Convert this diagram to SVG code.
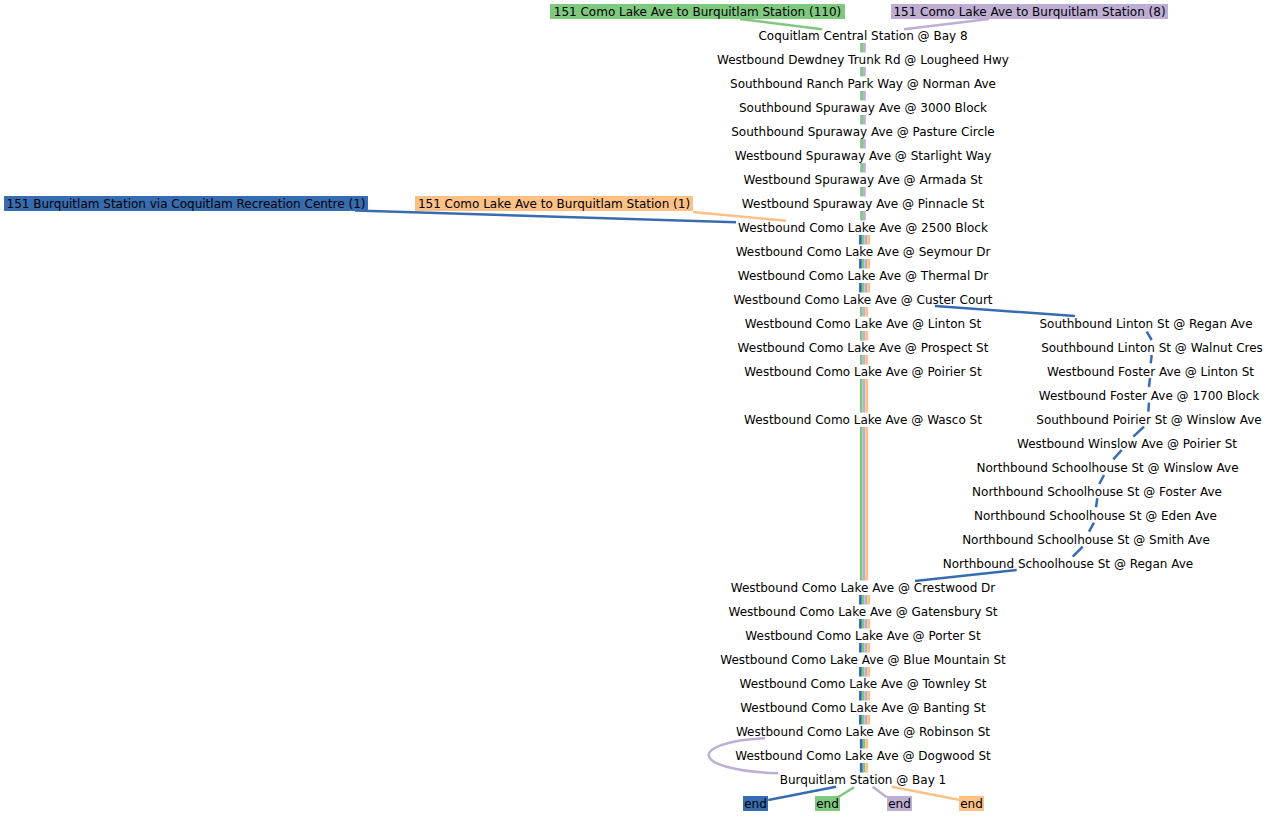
<svg xmlns="http://www.w3.org/2000/svg" width="1271" height="816" viewBox="0 0 1271 816">
<style>
text{font-family:"DejaVu Sans",sans-serif;font-size:12px;fill:#000}
.stop text{text-anchor:middle}
.c{fill:none;stroke-width:2.5;stroke-linecap:butt}
.s{fill:none;stroke-width:2.75;stroke-linecap:butt}
.b{stroke:#386cb0}.g{stroke:#7fc97f}.p{stroke:#beaed4}.o{stroke:#fdc086}
.fb{fill:#386cb0}.fg{fill:#7fc97f}.fp{fill:#beaed4}.fo{fill:#fdc086}
</style>
<rect width="1271" height="816" fill="#fff"/>
<g id="connectors">
<path class="s g" d="M861.6 43V52.5M861.6 67V76.5M861.6 91V100.5M861.6 115V124.5M861.6 139V148.5M861.6 163V172.5M861.6 187V196.5M861.6 211V220.5M863.1 235V244.5M863.1 259V268.5M863.1 283V292.5M861.25 307V316.5M861.25 331V340.5M861.25 355V364.5M861.25 379V412.5M861.25 427V580.5M863.1 595V604.5M863.1 619V628.5M863.1 643V652.5M863.1 667V676.5M863.1 691V700.5M863.1 715V724.5M864 739V748.5M864 763V772.5"/>
<path class="s p" d="M864.4 43V52.5M864.4 67V76.5M864.4 91V100.5M864.4 115V124.5M864.4 139V148.5M864.4 163V172.5M864.4 187V196.5M864.4 211V220.5M865.9 235V244.5M865.9 259V268.5M865.9 283V292.5M864 307V316.5M864 331V340.5M864 355V364.5M864 379V412.5M864 427V580.5M865.9 595V604.5M865.9 619V628.5M865.9 643V652.5M865.9 667V676.5M865.9 691V700.5M865.9 715V724.5"/>
<path class="s o" d="M868.6 235V244.5M868.6 259V268.5M868.6 283V292.5M866.75 307V316.5M866.75 331V340.5M866.75 355V364.5M866.75 379V412.5M866.75 427V580.5M868.6 595V604.5M868.6 619V628.5M868.6 643V652.5M868.6 667V676.5M868.6 691V700.5M868.6 715V724.5M866.75 739V748.5M866.75 763V772.5"/>
<path class="s b" d="M860.4 235V244.5M860.4 259V268.5M860.4 283V292.5M860.4 595V604.5M860.4 619V628.5M860.4 643V652.5M860.4 667V676.5M860.4 691V700.5M860.4 715V724.5M861.25 739V748.5M861.25 763V772.5"/>
<path class="c g" d="M740 19L822 29.3"/>
<path class="c p" d="M989 19L904 29.3"/>
<path class="c b" d="M355 210.5L736 222.3"/>
<path class="c o" d="M693 212L786 220.7"/>
<path class="c b" d="M935 306L1075 316M1146.7 331.7L1151.7 340M1151.7 355L1150.7 363.3M1150 378L1149 387M1149 402.7L1148.3 411.7M1144 426.7L1133.3 436.7M1121.7 450L1113.3 459.3M1104 475L1099.3 484M1097.3 498.3L1096 507.3M1094 522.7L1089 531.7M1082.7 546.7L1072.7 556.7M1016.7 570L915 581"/>
<path class="c p" d="M765 738.3C688 742 688 770 778.3 773.3"/>
<path class="c b" d="M836 786.7L768.3 800"/>
<path class="c g" d="M854 787.3L838 797.3"/>
<path class="c p" d="M872.7 786.7L886.7 797.3"/>
<path class="c o" d="M891.7 786.7L960 800"/>
</g>
<g id="route-green-110"><rect class="fg" x="550" y="4" width="295" height="15"/><text x="697.5" y="15.5" text-anchor="middle">151 Como Lake Ave to Burquitlam Station (110)</text></g>
<g id="route-purple-8"><rect class="fp" x="891" y="4" width="277" height="15"/><text x="1029.5" y="15.5" text-anchor="middle">151 Como Lake Ave to Burquitlam Station (8)</text></g>
<g id="route-blue-1"><rect class="fb" x="4" y="196" width="364" height="15"/><text x="186" y="207.5" text-anchor="middle">151 Burquitlam Station via Coquitlam Recreation Centre (1)</text></g>
<g id="route-orange-1"><rect class="fo" x="415" y="196" width="278" height="15"/><text x="554" y="207.5" text-anchor="middle">151 Como Lake Ave to Burquitlam Station (1)</text></g>
<g class="stop">
<g id="s01"><text x="863" y="40">Coquitlam Central Station @ Bay 8</text></g>
<g id="s02"><text x="863" y="64">Westbound Dewdney Trunk Rd @ Lougheed Hwy</text></g>
<g id="s03"><text x="863" y="88">Southbound Ranch Park Way @ Norman Ave</text></g>
<g id="s04"><text x="863" y="112">Southbound Spuraway Ave @ 3000 Block</text></g>
<g id="s05"><text x="863" y="136">Southbound Spuraway Ave @ Pasture Circle</text></g>
<g id="s06"><text x="863" y="160">Westbound Spuraway Ave @ Starlight Way</text></g>
<g id="s07"><text x="863" y="184">Westbound Spuraway Ave @ Armada St</text></g>
<g id="s08"><text x="863" y="208">Westbound Spuraway Ave @ Pinnacle St</text></g>
<g id="s09"><text x="863" y="232">Westbound Como Lake Ave @ 2500 Block</text></g>
<g id="s10"><text x="863" y="256">Westbound Como Lake Ave @ Seymour Dr</text></g>
<g id="s11"><text x="863" y="280">Westbound Como Lake Ave @ Thermal Dr</text></g>
<g id="s12"><text x="863" y="304">Westbound Como Lake Ave @ Custer Court</text></g>
<g id="s13"><text x="863" y="328">Westbound Como Lake Ave @ Linton St</text></g>
<g id="s14"><text x="863" y="352">Westbound Como Lake Ave @ Prospect St</text></g>
<g id="s15"><text x="863" y="376">Westbound Como Lake Ave @ Poirier St</text></g>
<g id="s16"><text x="863" y="424">Westbound Como Lake Ave @ Wasco St</text></g>
<g id="s17"><text x="863" y="592">Westbound Como Lake Ave @ Crestwood Dr</text></g>
<g id="s18"><text x="863" y="616">Westbound Como Lake Ave @ Gatensbury St</text></g>
<g id="s19"><text x="863" y="640">Westbound Como Lake Ave @ Porter St</text></g>
<g id="s20"><text x="863" y="664">Westbound Como Lake Ave @ Blue Mountain St</text></g>
<g id="s21"><text x="863" y="688">Westbound Como Lake Ave @ Townley St</text></g>
<g id="s22"><text x="863" y="712">Westbound Como Lake Ave @ Banting St</text></g>
<g id="s23"><text x="863" y="736">Westbound Como Lake Ave @ Robinson St</text></g>
<g id="s24"><text x="863" y="760">Westbound Como Lake Ave @ Dogwood St</text></g>
<g id="s25"><text x="863" y="784">Burquitlam Station @ Bay 1</text></g>
<g id="r01"><text x="1146" y="328">Southbound Linton St @ Regan Ave</text></g>
<g id="r02"><text x="1152" y="352">Southbound Linton St @ Walnut Cres</text></g>
<g id="r03"><text x="1150.5" y="376">Westbound Foster Ave @ Linton St</text></g>
<g id="r04"><text x="1149" y="400">Westbound Foster Ave @ 1700 Block</text></g>
<g id="r05"><text x="1149" y="424">Southbound Poirier St @ Winslow Ave</text></g>
<g id="r06"><text x="1127" y="448">Westbound Winslow Ave @ Poirier St</text></g>
<g id="r07"><text x="1107.5" y="472">Northbound Schoolhouse St @ Winslow Ave</text></g>
<g id="r08"><text x="1097" y="496">Northbound Schoolhouse St @ Foster Ave</text></g>
<g id="r09"><text x="1095.5" y="520">Northbound Schoolhouse St @ Eden Ave</text></g>
<g id="r10"><text x="1086" y="544">Northbound Schoolhouse St @ Smith Ave</text></g>
<g id="r11"><text x="1068" y="568">Northbound Schoolhouse St @ Regan Ave</text></g>
</g>
<g id="end-blue"><rect class="fb" x="743" y="796" width="25" height="15"/><text x="755.5" y="807.5" text-anchor="middle">end</text></g>
<g id="end-green"><rect class="fg" x="815" y="796" width="25" height="15"/><text x="827.5" y="807.5" text-anchor="middle">end</text></g>
<g id="end-purple"><rect class="fp" x="887" y="796" width="25" height="15"/><text x="899.5" y="807.5" text-anchor="middle">end</text></g>
<g id="end-orange"><rect class="fo" x="959" y="796" width="25" height="15"/><text x="971.5" y="807.5" text-anchor="middle">end</text></g>
</svg>
